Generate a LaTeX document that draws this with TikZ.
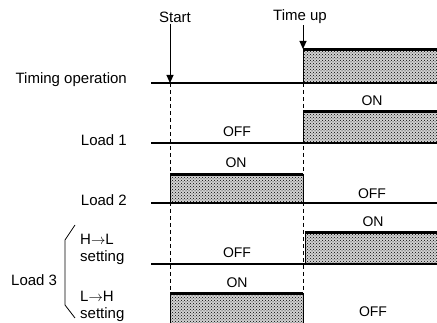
\documentclass[tikz,border=0pt]{standalone}
\usepackage{fontspec}
\setmainfont{Liberation Sans}
\usetikzlibrary{arrows.meta, patterns, positioning}

\begin{document}
\begin{tikzpicture}[
  x=1pt, y=-1pt,
  lbl/.style={font=\fontsize{15}{17}\selectfont, inner sep=1pt},
  lvl/.style={font=\fontsize{14}{16}\selectfont, inner sep=1pt},
  base/.style={line width=1.3pt},
  onbox/.style={preaction={fill=gray!35}, pattern=crosshatch dots, pattern color=black},
  side/.style={line width=0.9pt},
  hitop/.style={line width=3pt},
  guide/.style={dash pattern=on 4pt off 3pt, line width=1pt},
  arr/.style={-{Triangle[length=8pt, width=7pt]}, line width=1pt},
]
  \useasboundingbox (0,0) rectangle (437,323);

  % time marks
  \coordinate (s) at (170,83);
  \coordinate (t) at (303,83);
  \node[lbl] (start) at (175,17) {Start};
  \node[lbl] (tup) at (300,17) {Time up};
  \draw[guide] (s) -- (170,323);
  \draw[guide] (t) -- (303,323);

  % signal names
  \node[lbl, anchor=east] (timing) at (128,80) {Timing operation};
  \node[lbl, anchor=east] (load1) at (128,140) {Load 1};
  \node[lbl, anchor=east] (load2) at (128,200) {Load 2};
  \node[lbl, anchor=west] (load3) at (10,280) {Load 3};
  \node[lbl, anchor=west, align=left] (hl) at (79,249) {H$\rightarrow$L\\setting};
  \node[lbl, anchor=west, align=left] (lh) at (79,306) {L$\rightarrow$H\\setting};
  \draw[line width=0.8pt] (75,225) -- (65,240) -- (65,305) -- (75,318);

  % timing operation
  \path[onbox] (303,50) rectangle (437,83);
  \draw[base] (151,83) -- (437,83);
  \draw[side] (303,83) -- (303,50);
  \draw[hitop] (303,50) -- (437,50);
  \draw[arr] (start.south -| s) -- (s);
  \draw[arr] (tup.south -| t) -- (303,49);

  % load 1
  \path[onbox] (303,112) rectangle (437,143);
  \draw[base] (151,143) -- (437,143);
  \draw[side] (303,143) -- (303,112);
  \draw[hitop] (303,112) -- (437,112);
  \node[lvl] (l1off) at (237,132) {OFF};
  \node[lvl] (l1on) at (372,101) {ON};

  % load 2
  \path[onbox] (170,175) rectangle (303,203);
  \draw[base] (151,203) -- (437,203);
  \draw[side] (170,203) -- (170,175) (303,175) -- (303,203);
  \draw[hitop] (170,175) -- (303,175);
  \node[lvl] (l2on) at (236,163) {ON};
  \node[lvl] (l2off) at (372,194) {OFF};

  % load 3, H->L
  \path[onbox] (305,233) rectangle (437,264);
  \draw[base] (151,264) -- (437,264);
  \draw[side] (305,264) -- (305,233);
  \draw[hitop] (305,233) -- (437,233);
  \node[lvl] (hloff) at (237,253) {OFF};
  \node[lvl] (hlon) at (373,222) {ON};

  % load 3, L->H
  \path[onbox] (170,294) rectangle (303,323);
  \draw[side] (170,323) -- (170,294) (303,294) -- (303,323);
  \draw[hitop] (170,294) -- (303,294);
  \node[lvl] (lhon) at (237,283) {ON};
  \node[lvl] (lhoff) at (373,312) {OFF};
\end{tikzpicture}
\end{document}
